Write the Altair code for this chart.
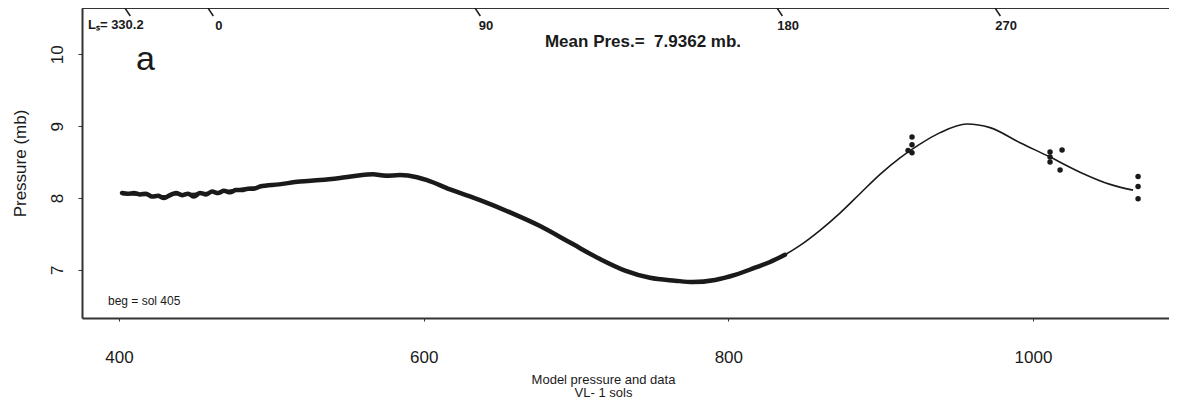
import altair as alt
import pandas as pd

# ---- data ----
model_sol = [402.0, 413.8, 426.9, 440.0, 453.2, 466.3, 479.4, 492.5, 518.8, 545.1, 566.7, 584.5,
             595.6, 602.2, 617.3, 637.0, 656.7, 676.4, 696.1, 715.8, 732.2, 748.6, 765.0, 776.8,
             791.3, 804.4, 817.5, 827.4, 837.2, 847.1, 860.2, 873.3, 886.4, 899.6, 912.7, 925.8,
             939.0, 956.7, 971.8, 991.5, 1011.2, 1030.9, 1050.6, 1065.7]
model_p = [8.05, 8.04, 8.03, 8.05, 8.07, 8.09, 8.13, 8.16, 8.23, 8.28, 8.33, 8.32,
           8.29, 8.25, 8.12, 7.97, 7.80, 7.61, 7.38, 7.15, 6.99, 6.89, 6.85, 6.83,
           6.86, 6.93, 7.03, 7.11, 7.21, 7.34, 7.55, 7.79, 8.06, 8.33, 8.56, 8.75,
           8.91, 9.03, 8.98, 8.77, 8.57, 8.36, 8.19, 8.11]

data_sol = [402.0, 405.9, 409.8, 413.8, 417.7, 421.7, 425.6, 429.5, 433.5, 437.4, 441.4, 445.3,
            449.2, 453.2, 457.1, 461.1, 465.0, 468.9, 472.9, 476.8, 480.7, 484.7, 488.6, 492.6,
            505.0, 518.8, 532.0, 545.1, 556.0, 566.7, 575.0, 584.5, 595.6, 602.2, 617.3, 637.0,
            656.7, 676.4, 696.1, 715.8, 732.2, 748.6, 765.0, 776.8, 791.3, 804.4, 817.5, 827.4, 837.2]
data_p = [8.07, 8.06, 8.07, 8.05, 8.06, 8.02, 8.03, 8.00, 8.04, 8.07, 8.04, 8.06,
          8.02, 8.07, 8.05, 8.09, 8.07, 8.10, 8.08, 8.11, 8.11, 8.13, 8.13, 8.16,
          8.19, 8.23, 8.25, 8.28, 8.31, 8.33, 8.31, 8.32, 8.29, 8.25, 8.12, 7.97,
          7.80, 7.61, 7.38, 7.15, 6.99, 6.89, 6.85, 6.83, 6.86, 6.93, 7.03, 7.11, 7.21]

pts_sol = [918.0, 920.6, 920.6, 920.6, 1011.2, 1011.2, 1011.2, 1019.1, 1017.8, 1069.0, 1069.0, 1069.0]
pts_p = [8.66, 8.85, 8.74, 8.63, 8.64, 8.57, 8.50, 8.67, 8.39, 8.30, 8.16, 7.99]

ls_sol = [403.9, 458.4, 633.7, 832.0, 975.1]
ls_label = ["", "0", "90", "180", "270"]

x_ticks = [400, 600, 800, 1000]
y_ticks = [7, 8, 9, 10]

mean_text = "Mean Pres.=\u00a0 7.9362 mb."
ls_text = "Lₛ= 330.2"
panel_text = "a"
beg_text = "beg = sol 405"
x_title = ["Model pressure and data", "VL- 1  sols"]
y_title = "Pressure (mb)"

# ---- layout ----
W, H = 1087, 310
XDOM = [375.7, 1089.3]
YDOM = [6.33, 10.645]
FONT = "Liberation Sans Narrow, Liberation Sans, Arial"
INK = "#1a1a1a"

model_df = pd.DataFrame({"sol": model_sol, "p": model_p})
data_df = pd.DataFrame({"sol": data_sol, "p": data_p})
pts_df = pd.DataFrame({"sol": pts_sol, "p": pts_p})
ls_df = pd.DataFrame({"sol": ls_sol, "label": ls_label})

xs = alt.Scale(domain=XDOM, nice=False, zero=False)
ys = alt.Scale(domain=YDOM, nice=False, zero=False)

x_axis = alt.Axis(values=x_ticks, format="d", grid=False, domainColor="#333", domainWidth=2,
                  tickColor="#333", tickSize=3, labelPadding=28, labelFontSize=17,
                  labelFont=FONT, labelColor=INK, title=x_title, titleFont=FONT,
                  titleFontSize=13, titleFontWeight="normal", titleColor=INK,
                  titleX=521, titleY=55, titleAlign="center", titleBaseline="top",
                  titleLineHeight=13)
y_axis = alt.Axis(values=y_ticks, format="d", grid=False, domainColor="#333", domainWidth=2,
                  tickColor="#333", tickSize=4, labelAngle=270, labelPadding=12,
                  labelFontSize=17, labelFont=FONT, labelColor=INK,
                  labelAlign="center", labelBaseline="bottom",
                  title=y_title, titleFont=FONT, titleFontSize=17,
                  titleFontWeight="normal", titleColor=INK, titleAngle=270,
                  titleX=-62, titleY=H / 2, titleAlign="center", titleBaseline="middle")

model = alt.Chart(model_df).mark_line(color=INK, strokeWidth=1.6, interpolate="monotone").encode(
    x=alt.X("sol:Q", scale=xs, axis=x_axis),
    y=alt.Y("p:Q", scale=ys, axis=y_axis),
)
data = alt.Chart(data_df).mark_line(color=INK, strokeWidth=4.5, interpolate="monotone",
                                    strokeJoin="round", strokeCap="round").encode(
    x=alt.X("sol:Q", scale=xs),
    y=alt.Y("p:Q", scale=ys),
)
pts = alt.Chart(pts_df).mark_circle(color=INK, size=30, opacity=1).encode(
    x=alt.X("sol:Q", scale=xs),
    y=alt.Y("p:Q", scale=ys),
)

top_line = alt.Chart(model_df).mark_rule(color="#333", strokeWidth=2).encode(
    x=alt.value(0), x2=alt.value(W), y=alt.value(0)
)

ls_ticks = alt.Chart(ls_df).transform_calculate(sol2="datum.sol + 3.5").mark_rule(
    color=INK, strokeWidth=1.5).encode(
    x=alt.X("sol:Q", scale=xs), x2="sol2:Q", y=alt.value(0), y2=alt.value(8)
)
ls_labels = alt.Chart(ls_df).mark_text(font=FONT, fontSize=13, fontWeight="bold",
                                       color=INK, dx=11, align="center").encode(
    x=alt.X("sol:Q", scale=xs), y=alt.value(18), text="label:N"
)

def note(txt, x, y, size, weight="normal", align="left", font=FONT):
    return alt.Chart(pd.DataFrame({"t": [txt]})).mark_text(
        font=font, fontSize=size, fontWeight=weight, color=INK, align=align,
        baseline="middle").encode(x=alt.value(x), y=alt.value(y), text="t:N")

texts = [
    note(ls_text, 6, 17, 13, "bold"),
    note(mean_text, 561, 34, 17, "bold", "center"),
    note(panel_text, 54, 52, 34, "normal", "left", "Liberation Sans, Arial"),
    note(beg_text, 26, 293, 12, "normal"),
]

chart = alt.layer(model, data, pts, top_line, ls_ticks, ls_labels, *texts).properties(
    width=W, height=H,
    padding={"left": 74, "top": 0, "right": 0, "bottom": 85},
    autosize=alt.AutoSizeParams(type="none"),
).configure_view(stroke=None).configure(background="white")

chart.save("out.html", embed_options={"renderer": "svg", "actions": False})
